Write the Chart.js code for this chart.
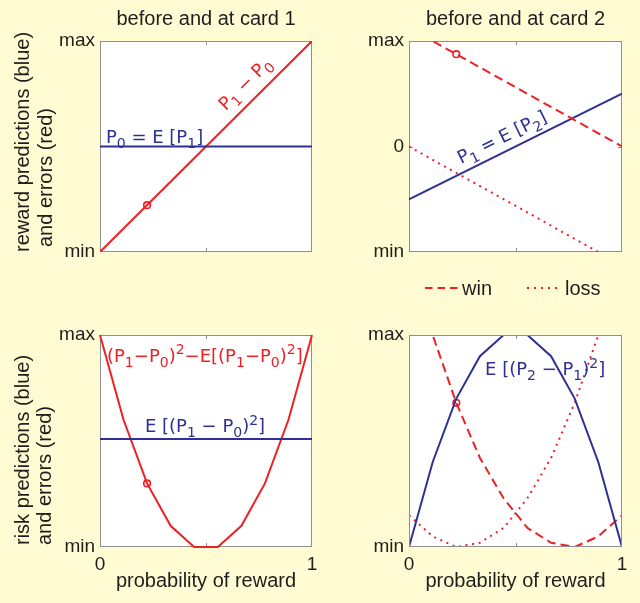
<!DOCTYPE html>
<html><head><meta charset="utf-8">
<script src="https://cdn.jsdelivr.net/npm/chart.js@4"></script>
<style>
html,body{margin:0;padding:0;background:#FFFBD2;}
#wrap{position:relative;width:640px;height:603px;overflow:hidden;background:#FFFBD2;}
#wrap canvas{position:absolute;left:0;top:0;}
</style></head><body>
<div id="wrap">
<canvas id="c1" width="640" height="603"></canvas>
<canvas id="c2" width="640" height="603"></canvas>
<canvas id="c3" width="640" height="603"></canvas>
<canvas id="c4" width="640" height="603"></canvas>
</div>
<script>
// ---------- data ----------
const probGrid = [0, 0.111, 0.222, 0.333, 0.444, 0.556, 0.667, 0.778, 0.889, 1];
const lineEnds = [0, 1];
// top-left: before and at card 1
const card1Error = [-1, 1];
const card1Prediction = [0, 0];
// top-right: before and at card 2
const card2Win = [1.125, 0];
const card2Loss = [0, -1.125];
const card2Prediction = [-0.5, 0.5];
// bottom-left: risk, card 1
const card1RiskError = [1, 0.6, 0.3, 0.1, 0, 0, 0.1, 0.3, 0.6, 1];
const card1RiskPrediction = [0.51, 0.51];
// bottom-right: risk, card 2
const card2RiskPrediction = [0, 0.4, 0.7, 0.9, 1, 1, 0.9, 0.7, 0.4, 0];
const card2RiskWin = [1.37, 1.0, 0.68, 0.42, 0.23, 0.09, 0.02, 0.0, 0.05, 0.15];
const card2RiskLoss = [0.15, 0.05, 0.0, 0.02, 0.09, 0.23, 0.42, 0.68, 1.0, 1.37];
// example outcome marker
const markerProb = [0.222];
const marker1 = [-0.556];
const marker2 = [0.875];
const marker3 = [0.3];
const marker4 = [0.68];
// ticks & labels
const rewardTicks = [-1, 1];
const rewardTickLabels = ['min', 'max'];
const reward2Ticks = [-1, 0, 1];
const reward2TickLabels = ['min', '0', 'max'];
const riskTicks = [0, 1];
const riskTickLabels = ['min', 'max'];
const probTicks = [0, 0.5, 1];
const probTickLabels = ['0', '', '1'];
const panelTitles = ['before and at card 1', 'before and at card 2'];
const rewardAxisTitle = ['reward predictions (blue)', 'and errors (red)'];
const riskAxisTitle = ['risk predictions (blue)', 'and errors (red)'];
const xAxisTitle = 'probability of reward';
const outcomeNames = ['win', 'loss'];

// ---------- styles ----------
const RED = '#EE2024', BLUE = '#2E3192', TXT = '#1E1E1E', BOX = '#8F8F8F';
const AXFONT = '"Liberation Sans", Arial, Helvetica, sans-serif';
const ANFONT = '"DejaVu Sans", "Open Sans", sans-serif';
Chart.defaults.font.family = AXFONT;
Chart.defaults.color = TXT;

const zip = (xs, ys) => xs.map((x, i) => ({x, y: ys[i]}));

function parseRich(str) {
  const segs = []; let buf = '';
  for (let i = 0; i < str.length; i++) {
    const c = str[i];
    if ((c === '_' || c === '^') && i + 1 < str.length) {
      if (buf) { segs.push([buf, 'n']); buf = ''; }
      segs.push([str[i + 1], c === '_' ? 'sub' : 'sup']); i++;
    } else buf += c;
  }
  if (buf) segs.push([buf, 'n']);
  return segs;
}
function drawRich(ctx, segs, x, y, size) {
  let cx = x;
  ctx.textAlign = 'left'; ctx.textBaseline = 'alphabetic';
  for (const [t, m] of segs) {
    const s = m === 'n' ? size : size * 0.78;
    const dy = m === 'sub' ? size * 0.28 : (m === 'sup' ? -size * 0.42 : 0);
    ctx.font = s + 'px ' + ANFONT;
    ctx.fillText(t, cx, y + dy);
    cx += ctx.measureText(t).width;
  }
}

const decor = {
  id: 'decor',
  beforeDraw(chart, args, o) {
    const a = chart.chartArea, ctx = chart.ctx;
    ctx.save(); ctx.fillStyle = '#FFFFFF';
    ctx.fillRect(a.left, a.top, a.right - a.left, a.bottom - a.top); ctx.restore();
  },
  beforeDatasetsDraw(chart, args, o) { if (!o.boxAbove) drawBox(chart, o); },
  afterDatasetsDraw(chart, args, o) {
    if (o.boxAbove) drawBox(chart, o);
    const ctx = chart.ctx, xs = chart.scales.x, ys = chart.scales.y;
    for (const an of (o.annotations || [])) {
      const px = xs.getPixelForValue(an.x), py = ys.getPixelForValue(an.y);
      let ang = 0;
      if (an.along) {
        const [x0, y0, x1, y1] = an.along;
        ang = Math.atan2(ys.getPixelForValue(y1) - ys.getPixelForValue(y0), xs.getPixelForValue(x1) - xs.getPixelForValue(x0));
      }
      ctx.save(); ctx.translate(px, py); ctx.rotate(ang); ctx.fillStyle = an.color;
      drawRich(ctx, parseRich(an.text), 0, an.dy || 0, an.size);
      ctx.restore();
    }
  },
  afterDraw(chart, args, o) {
    const ctx = chart.ctx, a = chart.chartArea;
    ctx.save();
    ctx.fillStyle = TXT;
    if (o.title) {
      ctx.font = '20px ' + AXFONT; ctx.textAlign = 'center'; ctx.textBaseline = 'alphabetic';
      ctx.fillText(o.title, (a.left + a.right) / 2, o.titleY);
    }
    if (o.yTitle) {
      ctx.font = '20px ' + AXFONT; ctx.textAlign = 'left'; ctx.textBaseline = 'middle';
      o.yTitle.lines.forEach((ln, i) => {
        ctx.save(); ctx.translate(o.yTitle.x[i], o.yTitle.start[i]); ctx.rotate(-Math.PI / 2);
        ctx.fillText(ln, 0, 0); ctx.restore();
      });
    }
    if (o.legend) {
      for (const it of o.legend) {
        const ds = chart.data.datasets[it.datasetIndex];
        ctx.save();
        ctx.strokeStyle = ds.borderColor; ctx.lineWidth = ds.borderWidth; ctx.lineCap = 'butt';
        ctx.setLineDash(it.dash);
        ctx.beginPath(); ctx.moveTo(it.x0, it.y); ctx.lineTo(it.x1, it.y); ctx.stroke();
        ctx.restore();
        ctx.font = '20px ' + AXFONT; ctx.textAlign = 'left'; ctx.textBaseline = 'alphabetic'; ctx.fillStyle = TXT;
        ctx.fillText(it.label, it.tx, it.y + 7);
      }
    }
    ctx.restore();
  }
};
function drawBox(chart, o) {
  const ctx = chart.ctx, a = chart.chartArea, xs = chart.scales.x, ys = chart.scales.y;
  ctx.save();
  ctx.strokeStyle = BOX; ctx.lineWidth = 1; ctx.setLineDash([]);
  ctx.strokeRect(Math.round(a.left) + 0.5, Math.round(a.top) + 0.5, Math.round(a.right - a.left) - 1, Math.round(a.bottom - a.top) - 1);
  ctx.beginPath();
  for (const v of (o.xInTicks || [])) {
    const p = Math.round(xs.getPixelForValue(v)) + 0.5;
    ctx.moveTo(p, a.top); ctx.lineTo(p, a.top + 4);
    ctx.moveTo(p, a.bottom); ctx.lineTo(p, a.bottom - 4);
  }
  for (const v of (o.yInTicks || [])) {
    const p = Math.round(ys.getPixelForValue(v)) + 0.5;
    ctx.moveTo(a.left, p); ctx.lineTo(a.left + 4, p);
    ctx.moveTo(a.right, p); ctx.lineTo(a.right - 4, p);
  }
  ctx.stroke();
  ctx.restore();
}

function lineDs(xs, ys, color, dash) {
  return { data: zip(xs, ys), borderColor: color, borderWidth: 2, borderDash: dash || [], pointRadius: 0, tension: 0, fill: false, clip: 0, borderCapStyle: 'butt' };
}
function markDs(xs, ys) {
  return { data: zip(xs, ys), showLine: false, pointRadius: 3.3, pointBorderWidth: 1.6, pointBorderColor: RED, pointBackgroundColor: 'rgba(0,0,0,0)', borderColor: RED, clip: false };
}

function makeChart(id, area, datasets, yMin, yMax, yTicks, yLabels, showX, decorOpts) {
  const H = 603, W = 640;
  return new Chart(document.getElementById(id), {
    type: 'line',
    data: { datasets },
    options: {
      responsive: false, animation: false, events: [],
      layout: { padding: { left: 0, top: area.top, right: W - area.right, bottom: 0 } },
      plugins: { legend: { display: false }, tooltip: { enabled: false }, title: { display: false }, decor: decorOpts },
      scales: {
        x: {
          type: 'linear', min: 0, max: 1,
          grid: { display: false, drawTicks: false }, border: { display: false },
          afterBuildTicks: s => { s.ticks = probTicks.map(v => ({ value: v })); },
          ticks: { display: showX, padding: 6, autoSkip: false, maxRotation: 0, font: { size: 19 }, color: TXT,
                   callback: v => probTickLabels[probTicks.indexOf(v)] ?? '' },
          title: { display: showX, text: xAxisTitle, font: { size: 20 }, color: TXT, padding: { top: 0, bottom: 10 } },
          afterFit: s => { s.height = H - area.bottom; s.paddingLeft = 0; s.paddingRight = 0; }
        },
        y: {
          type: 'linear', min: yMin, max: yMax,
          grid: { display: false, drawTicks: false }, border: { display: false },
          afterBuildTicks: s => { s.ticks = yTicks.map(v => ({ value: v })); },
          ticks: { padding: 5, autoSkip: false, font: { size: 19 }, color: TXT,
                   callback: v => yLabels[yTicks.indexOf(v)] ?? '' },
          afterFit: s => { s.width = area.left; s.paddingTop = 0; s.paddingBottom = 0; }
        }
      }
    },
    plugins: [decor]
  });
}

// Panel 1
makeChart('c1', { left: 100, top: 41, right: 312, bottom: 252 }, [
  lineDs(lineEnds, card1Prediction, BLUE),
  lineDs(lineEnds, card1Error, RED),
  markDs(markerProb, marker1)
], -1, 1, rewardTicks, rewardTickLabels, false, {
  title: panelTitles[0], titleY: 25, xInTicks: [0.5],
  yTitle: { lines: rewardAxisTitle, x: [23, 46], start: [252, 247] },
  annotations: [
    { text: 'P_0 = E [P_1]', x: 0.028, y: 0.033, size: 18, color: BLUE },
    { text: 'P_1 \u2212 P_0', x: 0.63, y: 0.26, along: [0, -1, 1, 1], dy: -11, size: 18, color: RED }
  ]
});

// Panel 2
makeChart('c2', { left: 409, top: 41, right: 622, bottom: 252 }, [
  lineDs(lineEnds, card2Win, RED, [9, 5]),
  lineDs(lineEnds, card2Loss, RED, [2, 4.7]),
  lineDs(lineEnds, card2Prediction, BLUE),
  markDs(markerProb, marker2)
], -1, 1, reward2Ticks, reward2TickLabels, false, {
  title: panelTitles[1], titleY: 25, xInTicks: [0.5], yInTicks: [0],
  annotations: [
    { text: 'P_1 = E [P_2]', x: 0.262, y: -0.238, along: [0, -0.5, 1, 0.5], dy: -8.5, size: 18, color: BLUE }
  ],
  legend: [
    { datasetIndex: 0, label: outcomeNames[0], x0: 425, x1: 458, tx: 462, y: 288, dash: [7.5, 5] },
    { datasetIndex: 1, label: outcomeNames[1], x0: 527, x1: 558, tx: 565, y: 288, dash: [2, 5] }
  ]
});

// Panel 3
makeChart('c3', { left: 100, top: 335, right: 312, bottom: 547 }, [
  lineDs(lineEnds, card1RiskPrediction, BLUE),
  Object.assign(lineDs(probGrid, card1RiskError, RED), { clip: 1 }),
  markDs(markerProb, marker3)
], 0, 1, riskTicks, riskTickLabels, true, {
  xInTicks: [0.5],
  yTitle: { lines: riskAxisTitle, x: [23, 45], start: [545, 545] },
  annotations: [
    { text: '(P_1\u2212P_0)^2\u2212E[(P_1\u2212P_0)^2]', x: 0.033, y: 0.873, size: 18, color: RED },
    { text: 'E [(P_1 \u2212 P_0)^2]', x: 0.212, y: 0.542, size: 18, color: BLUE }
  ]
});

// Panel 4
makeChart('c4', { left: 409, top: 335, right: 622, bottom: 547 }, [
  lineDs(probGrid, card2RiskPrediction, BLUE),
  lineDs(probGrid, card2RiskWin, RED, [9, 5]),
  lineDs(probGrid, card2RiskLoss, RED, [2, 4.7]),
  markDs(markerProb, marker4)
], 0, 1, riskTicks, riskTickLabels, true, {
  boxAbove: true, xInTicks: [0.5],
  annotations: [
    { text: 'E [(P_2 \u2212 P_1)^2]', x: 0.357, y: 0.811, size: 18, color: BLUE }
  ]
});
</script>
</body></html>
